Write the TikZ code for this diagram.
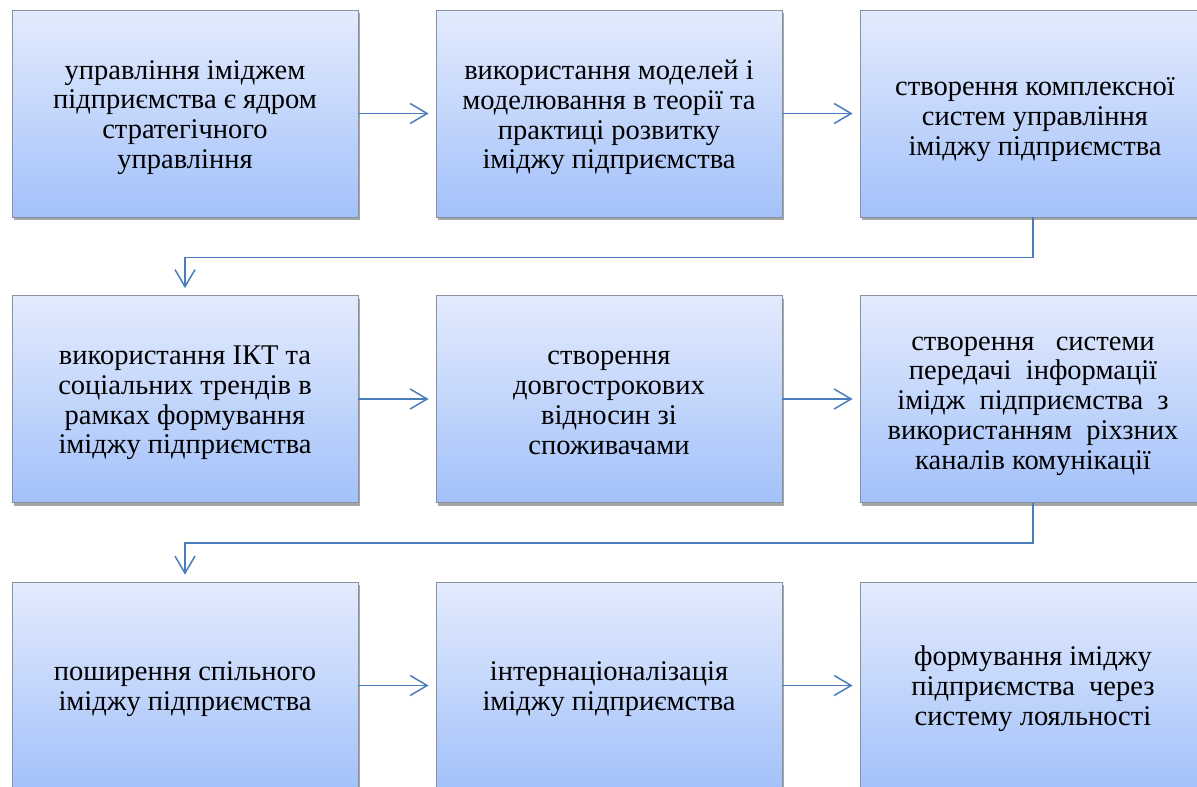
\documentclass[tikz,border=0pt]{standalone}
\usepackage{fontspec}
\setmainfont{Liberation Serif}
\usetikzlibrary{arrows.meta,shadows}
\definecolor{boxtop}{RGB}{227,235,253}
\definecolor{boxbot}{RGB}{163,193,250}
\definecolor{boxline}{RGB}{135,145,160}
\definecolor{arrowblue}{RGB}{74,126,187}
\begin{document}
\begin{tikzpicture}[x=1pt,y=-1pt,
  stagebox/.style={draw=boxline, line width=0.8pt, top color=boxtop, bottom color=boxbot,
    minimum width=346pt, minimum height=207pt, inner sep=0pt,
    drop shadow={shadow xshift=2pt, shadow yshift=-3pt, opacity=0.35, fill=black}},
  stagetext/.style={inner sep=0pt, align=center, font=\fontsize{28.5}{29.8}\selectfont},
  link/.style={draw=arrowblue, line width=1.5pt,
    -{Straight Barb[length=17pt,width=20pt,line width=1.5pt]}, shorten >=7pt}]
\useasboundingbox (0,0) rectangle (1197,787);
\clip (0,0) rectangle (1197,787);
\node[stagebox] (n1) at (185,113.5) {};
\node[stagebox] (n2) at (609,113.5) {};
\node[stagebox] (n3) at (1033,113.5) {};
\node[stagebox] (n4) at (185,399) {};
\node[stagebox] (n5) at (609,399) {};
\node[stagebox] (n6) at (1033,399) {};
\node[stagebox] (n7) at (185,685.5) {};
\node[stagebox] (n8) at (609,685.5) {};
\node[stagebox] (n9) at (1033,685.5) {};
\node[stagetext] (t1) at ([yshift=-4pt]n1.center) {управління іміджем\\підприємства є ядром\\стратегічного\\управління};
\node[stagetext] (t2) at ([yshift=-4pt]n2.center) {використання моделей і\\моделювання в теорії та\\практиці розвитку\\іміджу підприємства};
\node[stagetext] (t3) at ([xshift=2pt,yshift=-6pt]n3.center) {створення комплексної\\систем управління\\іміджу підприємства};
\node[stagetext] (t4) at ([yshift=-4pt]n4.center) {використання ІКТ та\\соціальних трендів в\\рамках формування\\іміджу підприємства};
\node[stagetext] (t5) at ([yshift=-4pt]n5.center) {створення\\довгострокових\\відносин зі\\споживачами};
\node[stagetext] (t6) at ([yshift=-7pt]n6.center) {створення\ \ \ системи\\передачі\ \ інформації\\імідж\ \ підприємства\ \ з\\використанням\ \ ріхзних\\каналів комунікації};
\node[stagetext] (t7) at ([yshift=-4pt]n7.center) {поширення спільного\\іміджу підприємства};
\node[stagetext] (t8) at ([yshift=-4pt]n8.center) {інтернаціоналізація\\іміджу підприємства};
\node[stagetext] (t9) at ([yshift=-3pt]n9.center) {формування іміджу\\підприємства\ \ через\\систему лояльності};
\draw[link] (n1.east) -- (n2.west);
\draw[link] (n2.east) -- (n3.west);
\draw[link] (n3.south) -- ++(0,40) -| (n4.north);
\draw[link] (n4.east) -- (n5.west);
\draw[link] (n5.east) -- (n6.west);
\draw[link] (n6.south) -- ++(0,40) -| (n7.north);
\draw[link] (n7.east) -- (n8.west);
\draw[link] (n8.east) -- (n9.west);
\end{tikzpicture}
\end{document}
